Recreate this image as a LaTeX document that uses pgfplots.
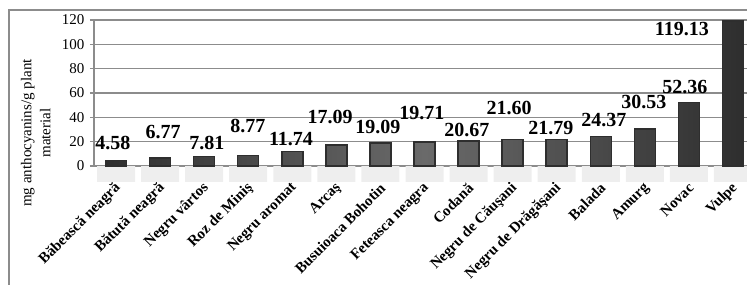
\documentclass[border=0pt]{standalone}
\usepackage{pgfplots}
\pgfplotsset{compat=1.18}
\usepackage{fontspec}
\setmainfont{Liberation Serif}
\definecolor{gridc}{HTML}{8C8C8C}
\definecolor{barc}{HTML}{555555}
\definecolor{barm}{HTML}{6A6A6A}
\definecolor{bare}{HTML}{2E2E2E}
\definecolor{floorc}{HTML}{EEEEEE}
\begin{document}
\begin{tikzpicture}
\path[use as bounding box] (0,0) rectangle (747pt,284pt);
\draw[gridc, line width=1.2pt] (9pt,-10pt) -- (9pt,274pt) -- (800pt,274pt);
\begin{axis}[
  at={(94pt,118pt)}, anchor=south west,
  scale only axis, width=661pt, height=146pt,
  xmin=-0.5, xmax=14.5, ymin=0, ymax=120,
  clip=false,
  axis line style={gridc, line width=1.2pt},
  axis x line*=bottom, axis y line*=left,
  ytick={0,20,...,120},
  ymajorgrids, grid style={gridc, line width=1.2pt},
  major tick style={gridc, line width=1.2pt},
  tick align=center, major tick length=8pt,
  xtick={0,...,14},
  xticklabels={Băbească neagră, Bătută neagră, Negru vârtos, Roz de Miniş, Negru aromat, Arcaş, Busuioaca Bohotin, Feteasca neagra, Codană, Negru de Căuşani, Negru de Drăgăşani, Balada, Amurg, Novac, Vulpe},
  x tick style={draw=none},
  minor xtick={-0.5,0.5,...,14.5},
  minor x tick style={gridc, line width=1.2pt},
  minor tick length=10pt,
  xticklabel style={yshift=-15pt, xshift=3pt, rotate=45, anchor=east, font=\bfseries\fontsize{15}{15}\selectfont, inner sep=1pt},
  yticklabel style={font=\fontsize{15}{15}\selectfont, xshift=-2pt},
  /pgf/number format/assume math mode=true,
  ylabel={mg anthocyanins/g plant\\material},
  every axis y label/.style={at={(axis description cs:-0.088,0.226)}, rotate=90, anchor=center, font=\fontsize{15}{19}\selectfont, align=center},
]
\addplot[ybar, bar shift=0pt, bar width=38pt, fill=floorc, draw=none] coordinates {
(0,-13)(1,-13)(2,-13)(3,-13)(4,-13)(5,-13)(6,-13)(7,-13)(8,-13)(9,-13)(10,-13)(11,-13)(12,-13)(13,-13)(14,-13)};
\addplot[ybar, bar shift=0pt, bar width=21pt, left color=bare, right color=bare, middle color=barm, draw=bare, line width=1.5pt] coordinates {
(0,4.58)(1,6.77)(2,7.81)(3,8.77)(4,11.74)(5,17.09)(6,19.09)(7,19.71)(8,20.67)(9,21.60)(10,21.79)(11,24.37)(12,30.53)(13,52.36)(14,119.13)};
\addplot[draw=none, mark=none, nodes near coords, point meta=explicit symbolic,
  nodes near coords style={anchor=center, font=\bfseries\fontsize{20}{20}\selectfont, inner sep=0pt}] coordinates {
(-0.07,18.9)[4.58]
(1.07,27.9)[6.77]
(2.06,18.9)[7.81]
(2.99,32.9)[8.77]
(3.97,22.2)[11.74]
(4.86,40.3)[17.09]
(5.94,32.1)[19.09]
(6.94,43.6)[19.71]
(7.96,29.6)[20.67]
(8.92,47.7)[21.60]
(9.87,31.2)[21.79]
(11.07,37.8)[24.37]
(11.98,52.6)[30.53]
(12.91,64.9)[52.36]
(12.84,112.6)[119.13]
};
\end{axis}
\end{tikzpicture}
\end{document}
